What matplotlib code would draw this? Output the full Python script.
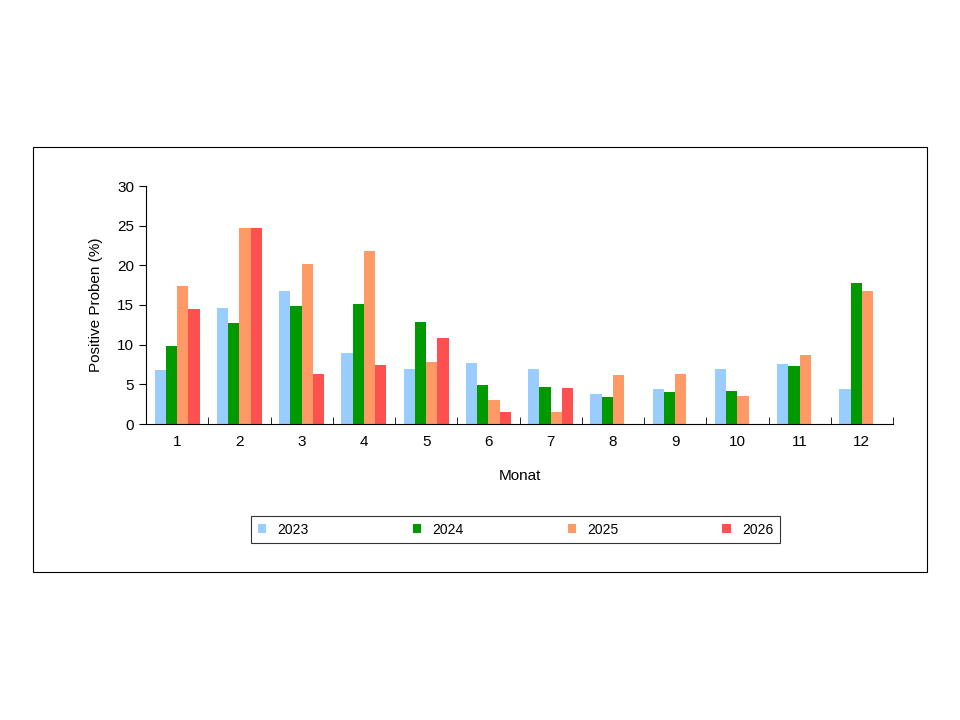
import matplotlib
matplotlib.use('Agg')
import matplotlib.pyplot as plt
import numpy as np
from matplotlib.patches import Rectangle

plt.rcParams['font.family'] = ['Liberation Sans', 'DejaVu Sans']

months = [str(m) for m in range(1, 13)]
y2023 = [6.8, 14.6, 16.8, 9.0, 6.9, 7.7, 6.9, 3.8, 4.4, 6.9, 7.6, 4.4]
y2024 = [9.8, 12.7, 14.9, 15.1, 12.9, 4.9, 4.7, 3.4, 4.0, 4.2, 7.3, 17.8]
y2025 = [17.4, 24.7, 20.2, 21.8, 7.8, 3.0, 1.5, 6.2, 6.3, 3.5, 8.7, 16.8]
y2026 = [14.5, 24.7, 6.3, 7.4, 10.8, 1.5, 4.5, np.nan, np.nan, np.nan, np.nan, np.nan]
series = [('2023', y2023, '#99ccff'), ('2024', y2024, '#009900'),
          ('2025', y2025, '#ff9966'), ('2026', y2026, '#ff5050')]

fig = plt.figure(figsize=(9.6, 7.2), dpi=100)
fig.patches.append(Rectangle((33/960, 1-572/720), 894/960, 425/720, transform=fig.transFigure,
                             fill=False, edgecolor='black', linewidth=0.8))
ax = fig.add_axes([146/960, 1-424/720, 747/960, 238/720])

x = np.arange(len(months))
w = 0.18
for i, (name, vals, col) in enumerate(series):
    ax.bar(x + (i - 1.5) * w, vals, w, color=col, label=name)

ax.set_xlim(-0.5, 11.5)
ax.set_ylim(0, 30)
ax.set_yticks(range(0, 31, 5))
ax.set_xticks(x)
ax.set_xticklabels(months)
ax.set_xticks(np.arange(-0.5, 12, 1), minor=True)
ax.tick_params(axis='x', which='major', length=0, labelsize=11, pad=8)
ax.tick_params(axis='x', which='minor', length=5, direction='in')
ax.tick_params(axis='y', labelsize=11, length=5, direction='out')
for s in ['top', 'right']:
    ax.spines[s].set_visible(False)
ax.set_xlabel('Monat', fontsize=11, labelpad=14)
ax.set_ylabel('Positive Proben (%)', fontsize=11, labelpad=10)

leg = fig.legend(loc='center', bbox_to_anchor=(515.5/960, 1-529.5/720), ncol=4, fontsize=10,
                 frameon=True, fancybox=False, edgecolor='black', handlelength=0.6,
                 handleheight=0.6, columnspacing=7.5, borderpad=0.5)
leg.get_frame().set_linewidth(0.8)

fig.savefig('out.png', dpi=100)
